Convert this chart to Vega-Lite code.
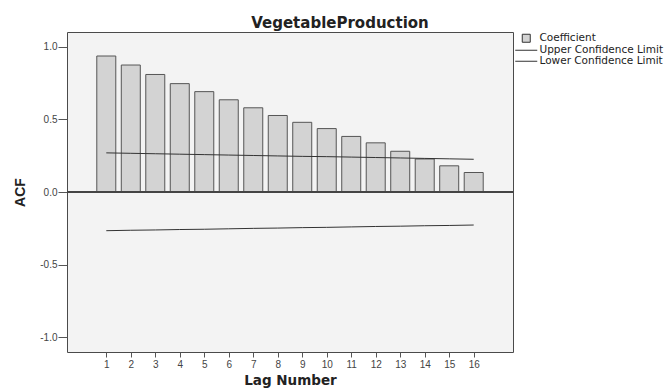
{
  "$schema": "https://vega.github.io/schema/vega-lite/v6.json",
  "autosize": {"type": "none"},
  "padding": {"left": 67, "top": 32, "right": 152, "bottom": 36},
  "width": 446,
  "height": 320,
  "background": "white",
  "config": {
    "font": "Liberation Sans",
    "view": {"fill": "#f3f3f3", "stroke": "#4a4a4a", "strokeWidth": 1}
  },
  "title": {
    "text": "VegetableProduction",
    "font": "DejaVu Sans",
    "fontSize": 15,
    "fontWeight": "bold",
    "color": "#222222",
    "anchor": "middle",
    "dx": 50,
    "baseline": "alphabetic",
    "offset": -11
  },
  "data": {
    "values": [
      {"lag": 1, "series": "Coefficient", "value": 0.935},
      {"lag": 2, "series": "Coefficient", "value": 0.873},
      {"lag": 3, "series": "Coefficient", "value": 0.808},
      {"lag": 4, "series": "Coefficient", "value": 0.745},
      {"lag": 5, "series": "Coefficient", "value": 0.69},
      {"lag": 6, "series": "Coefficient", "value": 0.634},
      {"lag": 7, "series": "Coefficient", "value": 0.579},
      {"lag": 8, "series": "Coefficient", "value": 0.526},
      {"lag": 9, "series": "Coefficient", "value": 0.479},
      {"lag": 10, "series": "Coefficient", "value": 0.436},
      {"lag": 11, "series": "Coefficient", "value": 0.382},
      {"lag": 12, "series": "Coefficient", "value": 0.338},
      {"lag": 13, "series": "Coefficient", "value": 0.28},
      {"lag": 14, "series": "Coefficient", "value": 0.227},
      {"lag": 15, "series": "Coefficient", "value": 0.18},
      {"lag": 16, "series": "Coefficient", "value": 0.134},
      {"lag": 1, "series": "Upper Confidence Limit", "value": 0.269},
      {"lag": 2, "series": "Upper Confidence Limit", "value": 0.266},
      {"lag": 3, "series": "Upper Confidence Limit", "value": 0.263},
      {"lag": 4, "series": "Upper Confidence Limit", "value": 0.26},
      {"lag": 5, "series": "Upper Confidence Limit", "value": 0.257},
      {"lag": 6, "series": "Upper Confidence Limit", "value": 0.254},
      {"lag": 7, "series": "Upper Confidence Limit", "value": 0.251},
      {"lag": 8, "series": "Upper Confidence Limit", "value": 0.248},
      {"lag": 9, "series": "Upper Confidence Limit", "value": 0.245},
      {"lag": 10, "series": "Upper Confidence Limit", "value": 0.243},
      {"lag": 11, "series": "Upper Confidence Limit", "value": 0.24},
      {"lag": 12, "series": "Upper Confidence Limit", "value": 0.237},
      {"lag": 13, "series": "Upper Confidence Limit", "value": 0.234},
      {"lag": 14, "series": "Upper Confidence Limit", "value": 0.231},
      {"lag": 15, "series": "Upper Confidence Limit", "value": 0.228},
      {"lag": 16, "series": "Upper Confidence Limit", "value": 0.225},
      {"lag": 1, "series": "Lower Confidence Limit", "value": -0.266},
      {"lag": 2, "series": "Lower Confidence Limit", "value": -0.263},
      {"lag": 3, "series": "Lower Confidence Limit", "value": -0.261},
      {"lag": 4, "series": "Lower Confidence Limit", "value": -0.258},
      {"lag": 5, "series": "Lower Confidence Limit", "value": -0.256},
      {"lag": 6, "series": "Lower Confidence Limit", "value": -0.253},
      {"lag": 7, "series": "Lower Confidence Limit", "value": -0.25},
      {"lag": 8, "series": "Lower Confidence Limit", "value": -0.248},
      {"lag": 9, "series": "Lower Confidence Limit", "value": -0.245},
      {"lag": 10, "series": "Lower Confidence Limit", "value": -0.243},
      {"lag": 11, "series": "Lower Confidence Limit", "value": -0.24},
      {"lag": 12, "series": "Lower Confidence Limit", "value": -0.237},
      {"lag": 13, "series": "Lower Confidence Limit", "value": -0.235},
      {"lag": 14, "series": "Lower Confidence Limit", "value": -0.232},
      {"lag": 15, "series": "Lower Confidence Limit", "value": -0.23},
      {"lag": 16, "series": "Lower Confidence Limit", "value": -0.227}
    ]
  },
  "encoding": {
    "x": {
      "field": "lag",
      "type": "quantitative",
      "scale": {"domain": [-0.4, 17.4], "nice": false, "zero": false},
      "axis": {
        "title": "Lag Number",
        "titleFont": "DejaVu Sans",
        "values": [1, 2, 3, 4, 5, 6, 7, 8, 9, 10, 11, 12, 13, 14, 15, 16],
        "format": "d",
        "grid": false,
        "domain": false,
        "tickSize": 5,
        "tickColor": "#555555",
        "labelFontSize": 10,
        "labelColor": "#444444",
        "labelPadding": 2,
        "titleFontSize": 13.5,
        "titleFontWeight": "bold",
        "titleColor": "#222222",
        "titlePadding": 4
      }
    },
    "y": {
      "field": "value",
      "type": "quantitative",
      "scale": {"domain": [-1.1, 1.1], "nice": false},
      "axis": {
        "title": "ACF",
        "values": [-1, -0.5, 0, 0.5, 1],
        "labelExpr": "datum.value < 0 ? '-' + format(abs(datum.value), '.1f') : format(datum.value, '.1f')",
        "grid": false,
        "domain": false,
        "tickSize": 9,
        "tickColor": "#555555",
        "labelFontSize": 10,
        "labelColor": "#444444",
        "labelPadding": 1,
        "titleFontSize": 14,
        "titleFontWeight": "bold",
        "titleColor": "#222222",
        "titlePadding": 12
      }
    }
  },
  "layer": [
    {
      "transform": [{"filter": "datum.series === 'Coefficient'"}],
      "mark": {"type": "bar", "width": 19, "fill": "#d3d3d3", "stroke": "#555555", "strokeWidth": 1, "fillOpacity": 1}
    },
    {
      "mark": {"type": "rule", "color": "#444444", "strokeWidth": 1},
      "encoding": {"y": {"datum": 0}, "x": null}
    },
    {
      "transform": [{"filter": "datum.series !== 'Coefficient'"}],
      "mark": {"type": "line", "strokeWidth": 1},
      "encoding": {
        "color": {
          "field": "series",
          "type": "nominal",
          "scale": {
            "domain": ["Coefficient", "Upper Confidence Limit", "Lower Confidence Limit"],
            "range": ["#333333", "#333333", "#333333"]
          },
          "legend": {
            "title": null,
            "orient": "none",
            "legendX": 454,
            "legendY": 1,
            "padding": 0,
            "rowPadding": 0,
            "symbolSize": 64,
            "labelFont": "DejaVu Sans",
            "labelFontSize": 10.5,
            "labelColor": "#222222",
            "labelOffset": 8,
            "symbolStrokeWidth": 1,
            "encode": {
              "symbols": {
                "update": {
                  "shape": {"signal": "datum.value === 'Coefficient' ? 'square' : 'M-2.75,0H2.75'"},
                  "fill": {"signal": "datum.value === 'Coefficient' ? '#d3d3d3' : 'transparent'"},
                  "stroke": {"value": "#333333"},
                  "strokeWidth": {"value": 1},
                  "strokeOpacity": {"value": 1},
                  "fillOpacity": {"value": 1},
                  "opacity": {"value": 1},
                  "size": {"value": 64}
                }
              }
            }
          }
        }
      }
    }
  ]
}
